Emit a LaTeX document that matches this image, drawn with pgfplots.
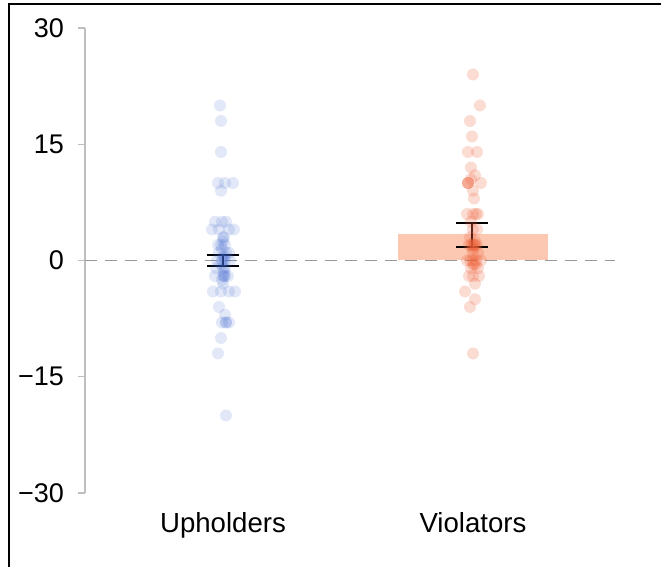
\documentclass[border=0pt]{standalone}
\usepackage{pgfplots}
\pgfplotsset{compat=1.18}
\usepackage{fontspec}
\setmainfont{Liberation Sans}
\definecolor{upblue}{RGB}{60,100,205}
\definecolor{viored}{RGB}{238,95,55}
\definecolor{barred}{RGB}{252,200,178}
\definecolor{axgray}{RGB}{190,190,190}
\begin{document}
\begin{tikzpicture}
\begin{axis}[
  at={(0,0)}, anchor=south west,
  scale only axis, width=265pt, height=232.5pt,
  xmin=0.448, xmax=2.568, ymin=-30, ymax=30,
  axis lines*=left,
  x axis line style={draw=none},
  y axis line style={axgray, line width=0.7pt},
  xtick={1,2}, xticklabels={Upholders, Violators},
  xtick style={draw=none},
  ytick={-30,-15,0,15,30},
  yticklabels={−30,−15,0,15,30},
  ytick style={axgray, line width=0.7pt},
  tick align=outside, major tick length=3.5pt,
  yticklabel style={font=\fontsize{13.5}{16}\selectfont, xshift=-3.5pt},
  xticklabel style={font=\fontsize{13.8}{16}\selectfont, yshift=-2.5pt},
  clip=false,
]
% bar
\addplot[ybar, bar width=0.6, fill=barred, draw=none, forget plot] coordinates {(2,3.4)};
% zero line
\addplot[axgray!80!black, dashed, dash pattern=on 6pt off 4pt, line width=0.9pt, forget plot] coordinates {(0.448,0) (2.568,0)};
% upholders points
\addplot[only marks, mark=*, mark size=3pt,
  mark options={draw=upblue, draw opacity=0, line width=0pt, fill=upblue, fill opacity=0.15}] coordinates {
(0.988,20) (0.992,18) (0.992,14)
(0.980,10) (1.008,10) (1.040,10) (0.992,9)
(0.968,5) (1.012,5) (0.996,5)
(0.956,4) (0.984,4) (1.024,4) (1.044,4)
(1.000,3) (0.992,2) (1.008,2) (0.980,2) (1.000,2.5) (1.004,3)
(0.984,1) (1.012,1) (1.024,1) (1.000,0.5) (0.996,1.5) (1.008,0.5)
(0.976,0) (1.008,0) (1.028,0) (0.992,-0.5) (1.000,0) (0.996,0)
(1.000,-1) (0.972,-1) (1.004,-1.5) (1.008,-1) (0.996,-2.5)
(0.968,-2) (1.000,-2) (1.020,-2) (1.008,-2) (1.004,-2)
(1.000,-3)
(0.960,-4) (0.992,-4) (1.024,-4) (1.048,-4)
(0.984,-6) (1.008,-7)
(0.996,-8) (1.012,-8) (1.024,-8) (1.012,-8)
(0.992,-10) (0.980,-12) (1.012,-20)
};
% violators points
\addplot[only marks, mark=*, mark size=3pt,
  mark options={draw=viored, draw opacity=0, line width=0pt, fill=viored, fill opacity=0.22}] coordinates {
(2.000,24) (2.028,20) (1.988,18) (1.996,16)
(1.980,14) (2.016,14) (1.992,12) (2.008,11)
(1.980,10) (1.980,10) (1.980,10) (2.032,10) (1.992,10.5) (2.000,9)
(2.004,8)
(1.976,6) (2.000,6) (2.020,6) (2.012,6) (1.992,5)
(2.000,4) (2.016,4) (1.988,3)
(1.992,2) (2.008,2) (2.000,2) (2.016,2) (1.984,2) (2.000,1.5) (2.004,2) (2.008,2.5)
(2.000,1) (2.020,1)
(1.988,0) (2.012,0) (2.032,0) (2.000,0) (1.976,0) (2.004,-0.5) (2.012,-0.5) (2.000,-0.5)
(1.992,-1) (2.020,-1)
(1.984,-2) (2.000,-2) (2.024,-2)
(2.008,-3) (1.968,-4) (2.008,-5) (1.988,-6) (2.000,-12)
};
% error bars (mean +- error)
\addplot[black, line width=1pt, mark=none, forget plot] coordinates {(1,-0.77) (1,0.67)};
\addplot[black, line width=1pt, mark=none, forget plot] coordinates {(0.936,-0.77) (1.064,-0.77)};
\addplot[black, line width=1pt, mark=none, forget plot] coordinates {(0.936,0.67) (1.064,0.67)};
\addplot[black, line width=1pt, mark=none, forget plot] coordinates {(1.996,1.75) (1.996,4.85)};
\addplot[black, line width=1pt, mark=none, forget plot] coordinates {(1.932,1.75) (2.060,1.75)};
\addplot[black, line width=1pt, mark=none, forget plot] coordinates {(1.932,4.85) (2.060,4.85)};
\end{axis}
\draw[black, line width=1pt] (-38pt,-37pt) -- (-38pt,244.25pt) -- (288pt,244.25pt);
\pgfresetboundingbox
\useasboundingbox (-42.5pt,-37pt) rectangle (288pt,246.5pt);
\end{tikzpicture}
\end{document}
